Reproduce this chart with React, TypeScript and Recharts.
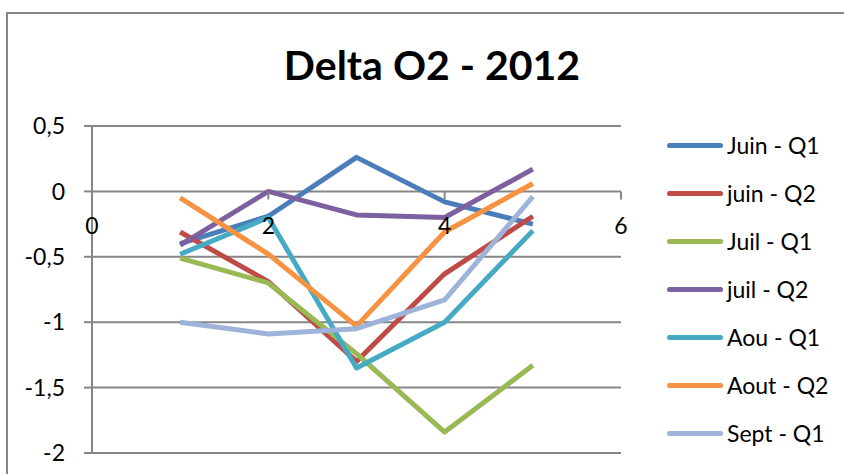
import { LineChart, Line, YAxis, XAxis, CartesianGrid, ReferenceDot } from 'recharts';

const xValues = [1, 2, 3, 4, 5];
const xTicks = [0, 2, 4, 6];
const yTicks = [-2, -1.5, -1, -0.5, 0, 0.5];

const juinQ1 = [-0.4, -0.19, 0.26, -0.08, -0.25];
const juinQ2 = [-0.31, -0.69, -1.3, -0.63, -0.19];
const juilQ1 = [-0.51, -0.7, -1.24, -1.84, -1.33];
const juilQ2 = [-0.41, 0.0, -0.18, -0.2, 0.17];
const aouQ1 = [-0.48, -0.2, -1.35, -1.0, -0.3];
const aoutQ2 = [-0.05, -0.48, -1.03, -0.31, 0.06];
const septQ1 = [-1.0, -1.09, -1.05, -0.83, -0.04];

const series = [
  { key: 'juinQ1', name: 'Juin - Q1', values: juinQ1, color: '#4A7EBB' },
  { key: 'juinQ2', name: 'juin - Q2', values: juinQ2, color: '#BE4B48' },
  { key: 'juilQ1', name: 'Juil - Q1', values: juilQ1, color: '#98B954' },
  { key: 'juilQ2', name: 'juil - Q2', values: juilQ2, color: '#7D60A0' },
  { key: 'aouQ1', name: 'Aou - Q1', values: aouQ1, color: '#46AAC5' },
  { key: 'aoutQ2', name: 'Aout - Q2', values: aoutQ2, color: '#F69240' },
  { key: 'septQ1', name: 'Sept - Q1', values: septQ1, color: '#9DB3D9' },
];

const data = xValues.map((x, i) => {
  const row: Record<string, number> = { x };
  series.forEach(s => { row[s.key] = s.values[i]; });
  return row;
});

const FONT = 'Lato, "Open Sans", sans-serif';
const GRID = '#868686';

const fmt = (v: number) => String(v).replace('.', ',');

// x axis crosses at y = 0, so ticks are drawn as reference dots on that line
const XTick = (label: number) => (props: any) => {
  const { cx, cy } = props;
  return (
    <g>
      <line x1={cx} y1={cy} x2={cx} y2={cy + 8} stroke={GRID} strokeWidth={2} />
      <text x={cx} y={cy + 43} textAnchor="middle" fontSize={23} fontFamily={FONT} fill="#000">{label}</text>
    </g>
  );
};

export default function App() {
  return (
    <div style={{ position: 'absolute', left: 0, top: 0, width: 844, height: 474, background: '#fff', overflow: 'hidden' }}>
      <div style={{ position: 'absolute', left: 6, top: 12, width: 900, height: 520, border: `2px solid ${GRID}` }} />
      <div style={{ position: 'absolute', left: 0, top: 40, width: 864, textAlign: 'center', fontFamily: FONT, fontWeight: 'bold', fontSize: 41, color: '#000' }}>
        Delta O2 - 2012
      </div>
      <LineChart width={844} height={474} data={data} margin={{ top: 126, right: 223, bottom: 21, left: 0 }} style={{ position: 'absolute', left: 0, top: 0 }}>
        <CartesianGrid vertical={false} stroke={GRID} strokeWidth={2} />
        <XAxis type="number" dataKey="x" domain={[0, 6]} ticks={xTicks} hide />
        <YAxis
          domain={[-2, 0.5]}
          ticks={yTicks}
          width={92}
          tickFormatter={fmt}
          axisLine={{ stroke: GRID, strokeWidth: 2 }}
          tickLine={{ stroke: GRID, strokeWidth: 2 }}
          tickSize={8}
          tickMargin={19}
          tick={{ fontSize: 23, fontFamily: FONT, fill: '#000' }}
        />
        {xTicks.map(t => (
          <ReferenceDot key={t} x={t} y={0} r={0} shape={XTick(t)} />
        ))}
        {series.map(s => (
          <Line
            key={s.key}
            dataKey={s.key}
            name={s.name}
            stroke={s.color}
            strokeWidth={5}
            strokeLinejoin="round"
            dot={false}
            activeDot={false}
            isAnimationActive={false}
          />
        ))}
      </LineChart>
      <div style={{ position: 'absolute', left: 667, top: 121, fontFamily: FONT, fontSize: 23, color: '#000' }}>
        {series.map(s => (
          <div key={s.key} style={{ height: 48, display: 'flex', alignItems: 'center' }}>
            <div style={{ width: 56, height: 5, borderRadius: 3, background: s.color, marginRight: 4 }} />
            <span>{s.name}</span>
          </div>
        ))}
      </div>
    </div>
  );
}
